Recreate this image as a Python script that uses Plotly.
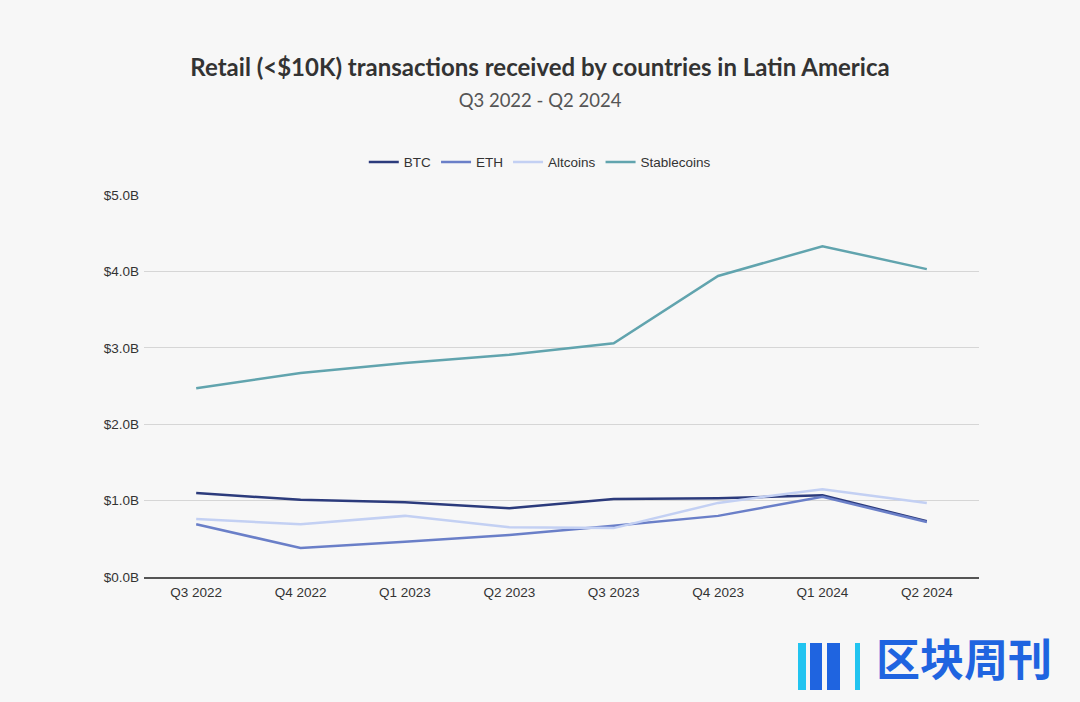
import plotly.graph_objects as go

quarters = ["Q3 2022", "Q4 2022", "Q1 2023", "Q2 2023", "Q3 2023", "Q4 2023", "Q1 2024", "Q2 2024"]
btc = [1.10, 1.01, 0.98, 0.90, 1.02, 1.03, 1.07, 0.73]
eth = [0.69, 0.38, 0.46, 0.55, 0.67, 0.80, 1.05, 0.72]
altcoins = [0.76, 0.69, 0.80, 0.65, 0.64, 0.97, 1.15, 0.97]
stablecoins = [2.47, 2.67, 2.80, 2.91, 3.06, 3.94, 4.33, 4.03]
y_ticks = [0, 1, 2, 3, 4, 5]
y_tick_labels = ["$0.0B", "$1.0B", "$2.0B", "$3.0B", "$4.0B", "$5.0B"]

series = [
    ("BTC", btc, "#2c3b7c"),
    ("ETH", eth, "#6a7fc8"),
    ("Altcoins", altcoins, "#c3d0f3"),
    ("Stablecoins", stablecoins, "#61a4ae"),
]

fig = go.Figure()
for name, vals, color in series:
    fig.add_trace(go.Scatter(x=quarters, y=vals, name=name, mode="lines",
                             line=dict(color=color, width=2.5)))

fig.update_layout(
    width=1080, height=702,
    paper_bgcolor="#f7f7f7", plot_bgcolor="#f7f7f7",
    margin=dict(l=144, r=101, t=195, b=125),
    title=dict(
        text="<b>Retail (<$10K) transactions received by countries in Latin America</b><br>"
             "<span style='font-size:18.5px;color:#555555'>Q3 2022 - Q2 2024</span>",
        x=0.5, xanchor="center", y=0.892, yanchor="top",
        font=dict(family="Lato", size=24, color="#333333"),
    ),
    legend=dict(orientation="h", x=0.474, xanchor="center", y=1.086, yanchor="middle",
                font=dict(family="Liberation Sans, Arial", size=13.5, color="#333333"),
                itemwidth=30, bgcolor="rgba(0,0,0,0)"),
    font=dict(family="Liberation Sans, Arial", size=13.5, color="#333333"),
    showlegend=True,
)
fig.update_xaxes(range=[-0.5, 7.5], showgrid=False, showline=True, linecolor="#555555", linewidth=1.5,
                 ticks="", ticklabelstandoff=2, tickfont=dict(size=13.5, color="#333333"))
fig.update_yaxes(range=[0, 5], tickvals=y_ticks, ticktext=y_tick_labels,
                 showgrid=True, gridcolor="#d6d6d6", gridwidth=1, zeroline=False,
                 showline=False, ticks="", ticklabelstandoff=4,
                 tickfont=dict(size=13.5, color="#333333"))

# watermark
fig.add_annotation(text="<b>区块周刊</b>", xref="paper", yref="paper", x=1.09, y=-0.21,
                   xanchor="right", yanchor="middle", showarrow=False,
                   font=dict(family="Noto Sans CJK SC", size=44, color="#1f64e0"))
for x0, x1, c in [(798, 806, "#22c4f0"), (810, 822, "#1f64e0"), (827, 840, "#1f64e0"), (855, 860, "#22c4f0")]:
    fig.add_shape(type="rect", xref="paper", yref="paper",
                  x0=(x0 - 144) / 835, x1=(x1 - 144) / 835,
                  y0=(577 - 690) / 382, y1=(577 - 643) / 382,
                  fillcolor=c, line=dict(width=0), layer="above")

fig.write_html("out.html")
